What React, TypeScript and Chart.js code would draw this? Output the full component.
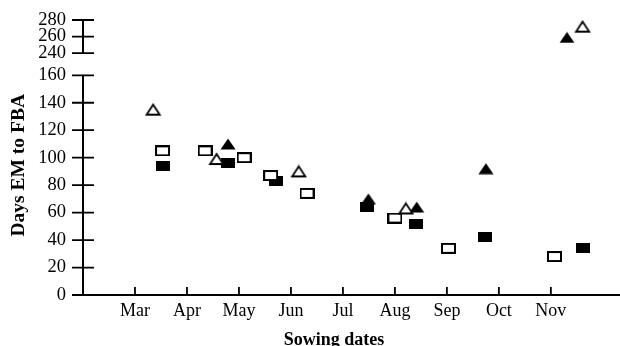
import React, { useEffect, useRef } from 'react';
import { Chart, registerables, LinearScale } from 'chart.js';

// ---- data ----
const MONTH_LABELS = ['Mar', 'Apr', 'May', 'Jun', 'Jul', 'Aug', 'Sep', 'Oct', 'Nov'];
const MONTH_TICKS = [3, 4, 5, 6, 7, 8, 9, 10, 11];
const Y_TICKS = [0, 20, 40, 60, 80, 100, 120, 140, 160, 240, 260, 280];
const Y_BREAK_LOW = 160;
const Y_BREAK_HIGH = 240;
const Y_MIN = 0;
const Y_MAX = 280;
const X_MIN = 2;
const X_MAX = 12.33;

const openTriX = [3.35, 4.57, 6.15, 8.21, 11.61];
const openTriY = [135, 99, 90, 63, 272];
const filledTriX = [4.79, 7.49, 8.42, 9.75, 11.31];
const filledTriY = [110, 70, 64, 92, 259];
const openSqX = [3.53, 4.35, 5.1, 5.61, 6.31, 8.0, 9.03, 11.07];
const openSqY = [105, 105, 100, 87, 74, 56, 34, 28];
const filledSqX = [3.53, 4.79, 5.71, 7.47, 8.4, 9.74, 11.61];
const filledSqY = [94, 96, 83, 64, 52, 42, 34];

const Y_TITLE = 'Days EM to FBA';
const X_TITLE = 'Sowing dates';

// relative heights of the broken-axis segments: lower (0-160), gap, upper (240-280)
const SEG_LOWER = 220.5;
const SEG_GAP = 22.2;
const SEG_UPPER = 33.3;

const FONT = '"Liberation Serif", "Times New Roman", serif';

class BrokenLinearScale extends LinearScale {
  static id = 'brokenLinear';
  buildTicks() {
    return Y_TICKS.map((v) => ({ value: v }));
  }
  toDecimal(v: number) {
    const total = SEG_LOWER + SEG_GAP + SEG_UPPER;
    if (v <= Y_BREAK_LOW) return ((v - Y_MIN) / (Y_BREAK_LOW - Y_MIN)) * SEG_LOWER / total;
    if (v >= Y_BREAK_HIGH)
      return (SEG_LOWER + SEG_GAP + ((v - Y_BREAK_HIGH) / (Y_MAX - Y_BREAK_HIGH)) * SEG_UPPER) / total;
    return (SEG_LOWER + ((v - Y_BREAK_LOW) / (Y_BREAK_HIGH - Y_BREAK_LOW)) * SEG_GAP) / total;
  }
  getPixelForValue(value: any) {
    if (value === null || value === undefined || isNaN(value)) return NaN;
    return (this as any).getPixelForDecimal(this.toDecimal(+value));
  }
  getValueForPixel(pixel: number) {
    const total = SEG_LOWER + SEG_GAP + SEG_UPPER;
    const d = (this as any).getDecimalForPixel(pixel) * total;
    if (d <= SEG_LOWER) return Y_MIN + (d / SEG_LOWER) * (Y_BREAK_LOW - Y_MIN);
    if (d >= SEG_LOWER + SEG_GAP)
      return Y_BREAK_HIGH + ((d - SEG_LOWER - SEG_GAP) / SEG_UPPER) * (Y_MAX - Y_BREAK_HIGH);
    return Y_BREAK_LOW + ((d - SEG_LOWER) / SEG_GAP) * (Y_BREAK_HIGH - Y_BREAK_LOW);
  }
}

Chart.register(...registerables, BrokenLinearScale);

function makeMarker(kind: string): HTMLCanvasElement {
  const c = document.createElement('canvas');
  const g = c.getContext('2d')!;
  if (kind === 'openTri') {
    c.width = 18; c.height = 14;
    g.lineWidth = 1.8; g.lineJoin = 'miter'; g.strokeStyle = '#000'; g.fillStyle = '#fff';
    g.beginPath(); g.moveTo(9, 2); g.lineTo(15.6, 12); g.lineTo(2.4, 12); g.closePath();
    g.fill(); g.stroke();
  } else if (kind === 'filledTri') {
    c.width = 16; c.height = 12;
    g.fillStyle = '#000';
    g.beginPath(); g.moveTo(8, 0.5); g.lineTo(15.5, 11.5); g.lineTo(0.5, 11.5); g.closePath();
    g.fill();
  } else if (kind === 'openSq') {
    c.width = 15; c.height = 11;
    g.fillStyle = '#fff'; g.fillRect(0, 0, 15, 11);
    g.lineWidth = 2; g.strokeStyle = '#000'; g.strokeRect(1, 1, 13, 9);
  } else {
    c.width = 14; c.height = 10;
    g.fillStyle = '#000'; g.fillRect(0, 0, 14, 10);
  }
  return c;
}

function pts(xs: number[], ys: number[]) {
  return xs.map((x, i) => ({ x, y: ys[i] }));
}

const axisPlugin = {
  id: 'brokenAxis',
  afterDraw(chart: any) {
    const ctx = chart.ctx;
    const y = chart.scales.y;
    const x = chart.scales.x;
    const ax = chart.chartArea.left;
    const bottom = chart.chartArea.bottom;
    ctx.save();
    ctx.strokeStyle = '#000';
    ctx.lineWidth = 2;
    ctx.beginPath();
    ctx.moveTo(ax, y.getPixelForValue(Y_MIN) + 1);
    ctx.lineTo(ax, y.getPixelForValue(Y_BREAK_LOW) - 0.5);
    ctx.moveTo(ax, y.getPixelForValue(Y_BREAK_HIGH) + 0.5);
    ctx.lineTo(ax, y.getPixelForValue(Y_MAX) - 0.5);
    ctx.moveTo(ax - 1, bottom);
    ctx.lineTo(chart.width, bottom);
    ctx.stroke();
    ctx.lineWidth = 1.8;
    ctx.beginPath();
    y.ticks.forEach((t: any) => {
      const py = y.getPixelForValue(t.value);
      ctx.moveTo(ax - 11, py);
      ctx.lineTo(ax + 11, py);
    });
    x.ticks.forEach((t: any) => {
      const px = x.getPixelForValue(t.value);
      ctx.moveTo(px, bottom);
      ctx.lineTo(px, bottom - 8);
    });
    ctx.stroke();
    ctx.fillStyle = '#000';
    ctx.textAlign = 'center';
    // x-axis title
    ctx.font = `bold 18px ${FONT}`;
    ctx.textBaseline = 'alphabetic';
    ctx.fillText(X_TITLE, x.getPixelForValue(6.83), 345);
    // y-axis title
    ctx.font = `bold 19.5px ${FONT}`;
    ctx.textBaseline = 'middle';
    ctx.translate(19, y.getPixelForValue(94.5));
    ctx.rotate(-Math.PI / 2);
    ctx.fillText(Y_TITLE, 0, 0);
    ctx.restore();
  },
};

export default function App() {
  const ref = useRef<HTMLCanvasElement>(null);
  useEffect(() => {
    const canvas = ref.current!;
    const openTri = makeMarker('openTri');
    const filledTri = makeMarker('filledTri');
    const openSq = makeMarker('openSq');
    const filledSq = makeMarker('filledSq');
    const ds = (data: any[], style: HTMLCanvasElement) => ({
      data,
      pointStyle: style,
      pointRadius: 7,
      pointHoverRadius: 7,
      showLine: false,
      backgroundColor: '#000',
      borderColor: '#000',
      clip: false as any,
    });
    const chart = new Chart(canvas, {
      type: 'scatter',
      data: {
        datasets: [
          ds(pts(openTriX, openTriY), openTri),
          ds(pts(openSqX, openSqY), openSq),
          ds(pts(filledTriX, filledTriY), filledTri),
          ds(pts(filledSqX, filledSqY), filledSq),
        ],
      },
      options: {
        responsive: false,
        animation: false,
        layout: { autoPadding: false, padding: { top: 20, right: 0, left: 0, bottom: 0 } },
        plugins: { legend: { display: false }, tooltip: { enabled: false } },
        scales: {
          x: {
            type: 'linear',
            min: X_MIN,
            max: X_MAX,
            afterBuildTicks: (s: any) => {
              s.ticks = MONTH_TICKS.map((v) => ({ value: v }));
            },
            afterFit: (s: any) => {
              s.height = 51;
              s.paddingLeft = 0;
              s.paddingRight = 0;
            },
            grid: { display: false, drawTicks: false },
            border: { display: false },
            ticks: {
              padding: 5,
              color: '#000',
              font: { family: FONT, size: 18 },
              maxRotation: 0,
              autoSkip: false,
              callback: (v: any) => MONTH_LABELS[MONTH_TICKS.indexOf(v)] ?? '',
            },
          },
          y: {
            type: 'brokenLinear' as any,
            min: Y_MIN,
            max: Y_MAX,
            afterFit: (s: any) => {
              s.width = 83;
              s.paddingTop = 0;
              s.paddingBottom = 0;
            },
            grid: { display: false, drawTicks: false },
            border: { display: false },
            ticks: {
              padding: 17,
              color: '#000',
              autoSkip: false,
              font: { family: FONT, size: 18.5 },
            },
          } as any,
        },
      },
      plugins: [axisPlugin],
    } as any);
    return () => chart.destroy();
  }, []);
  return (
    <div style={{ position: 'fixed', left: 0, top: 0, width: 620, height: 346, background: '#fff' }}>
      <canvas ref={ref} width={620} height={346} style={{ display: 'block' }} />
    </div>
  );
}
